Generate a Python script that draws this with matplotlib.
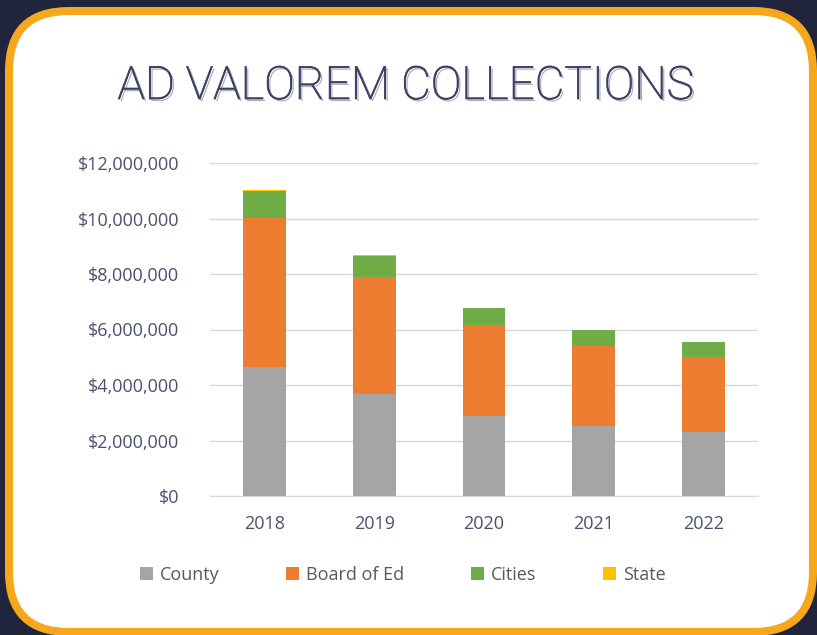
import numpy as np
import matplotlib.pyplot as plt
import matplotlib.patheffects as pe
from matplotlib.patches import FancyBboxPatch
from matplotlib.ticker import FuncFormatter

years = ['2018', '2019', '2020', '2021', '2022']
county = [4640000, 3690000, 2870000, 2520000, 2310000]
board_of_ed = [5370000, 4210000, 3290000, 2900000, 2690000]
cities = [990000, 760000, 610000, 550000, 540000]
state = [30000, 25000, 20000, 15000, 12000]

series = [('County', county, '#A5A5A5'),
          ('Board of Ed', board_of_ed, '#ED7D31'),
          ('Cities', cities, '#70AD47'),
          ('State', state, '#FFC000')]

plt.rcParams['font.family'] = ['Open Sans', 'DejaVu Sans']

W, H = 817, 635
fig = plt.figure(figsize=(W / 100, H / 100), dpi=100)
fig.patch.set_facecolor('#21243d')

# white card with orange rounded border (pixel -> inch coords)
card = FancyBboxPatch((9 / 100, (H - 632) / 100), (813 - 9) / 100, (632 - 11) / 100,
                      boxstyle='round,pad=0,rounding_size=0.6',
                      transform=fig.dpi_scale_trans, facecolor='white',
                      edgecolor='#F5A81C', linewidth=5.8, zorder=-10)
fig.patches.append(card)

fig.text(406 / W, 1 - 86 / H, 'AD VALOREM COLLECTIONS', ha='center', va='center',
         fontsize=33, color='#3c4062', fontweight='light',
         family=['Roboto', 'DejaVu Sans'],
         path_effects=[pe.SimplePatchShadow(offset=(1.5, -1.5),
                                            shadow_rgbFace='#a3a6ba', alpha=0.9),
                       pe.Stroke(linewidth=0.6, foreground='#3c4062'),
                       pe.Normal()])

ax = fig.add_axes([210 / W, 1 - 496 / H, (758 - 210) / W, (496 - 163) / H])
ax.set_facecolor('none')

x = np.arange(len(years))
bottom = np.zeros(len(years))
for name, vals, col in series:
    ax.bar(x, vals, width=0.39, bottom=bottom, color=col, label=name, zorder=3)
    bottom += np.array(vals)

ax.set_xlim(-0.5, len(years) - 0.5)
ax.set_ylim(0, 12000000)
ax.set_yticks(np.arange(0, 12000001, 2000000))
ax.yaxis.set_major_formatter(FuncFormatter(lambda v, p: '${:,.0f}'.format(v)))
ax.set_xticks(x)
ax.set_xticklabels(years)
ax.grid(axis='y', color='#d9d9d9', linewidth=1, zorder=0)
for s in ['top', 'right', 'left']:
    ax.spines[s].set_visible(False)
ax.spines['bottom'].set_color('#d9d9d9')
ax.tick_params(length=0, labelsize=13, labelcolor='#4a5170')
ax.tick_params(axis='y', pad=22)
ax.tick_params(axis='x', pad=14)

leg = ax.legend(loc='center', bbox_to_anchor=(403 / W, 1 - 575 / H),
                bbox_transform=fig.transFigure, ncol=4, frameon=False,
                fontsize=13, handlelength=0.7, handleheight=0.7,
                handletextpad=0.4, columnspacing=3.7)
for t in leg.get_texts():
    t.set_color('#595959')

fig.savefig('out.png', dpi=100, facecolor=fig.get_facecolor())
